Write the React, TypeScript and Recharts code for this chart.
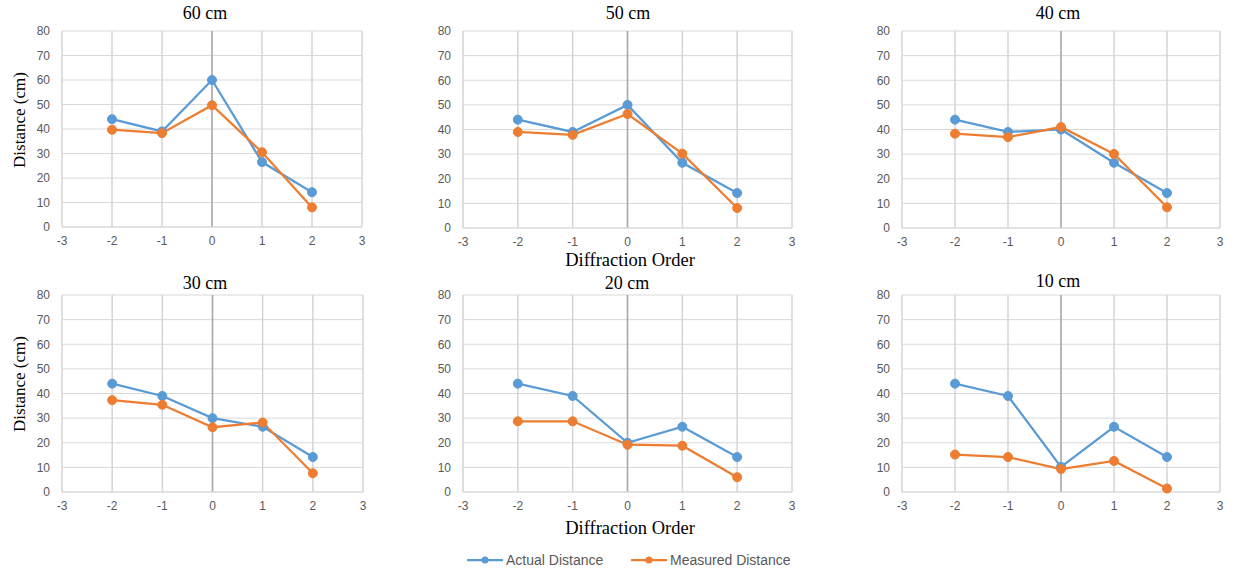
import { LineChart, Line, XAxis, YAxis, CartesianGrid, ReferenceLine } from 'recharts';

// diffraction orders on the x axis
const ORDERS = [-2, -1, 0, 1, 2];
const X_TICKS = [-3, -2, -1, 0, 1, 2, 3];
const Y_TICKS = [0, 10, 20, 30, 40, 50, 60, 70, 80];

// actual vs measured distance (cm)
const ACTUAL_60 = [44, 39, 60, 26.5, 14.2];
const MEASURED_60 = [39.7, 38.3, 49.7, 30.5, 8];
const ACTUAL_50 = [44, 39, 50, 26.5, 14.2];
const MEASURED_50 = [39, 37.8, 46.3, 30.2, 8.1];
const ACTUAL_40 = [44, 39, 40, 26.5, 14.2];
const MEASURED_40 = [38.3, 36.9, 41, 30.1, 8.4];
const ACTUAL_30 = [44, 39, 30, 26.5, 14.2];
const MEASURED_30 = [37.3, 35.4, 26.3, 28.2, 7.6];
const ACTUAL_20 = [44, 39, 20, 26.5, 14.2];
const MEASURED_20 = [28.7, 28.7, 19.2, 18.8, 6];
const ACTUAL_10 = [44, 39, 10.2, 26.5, 14.2];
const MEASURED_10 = [15.2, 14.2, 9.3, 12.6, 1.4];

const BLUE = '#5b9bd5';
const ORANGE = '#ed7d31';
const TICK = { fill: '#595959', fontSize: 12, fontFamily: 'Liberation Sans' };
const SERIF = 'Liberation Serif, serif';

const Y_AXIS_W = 40;
const X_AXIS_H = 30;
const PAD = 10;

interface PanelProps {
  title: string;
  titleX: number;
  titleY: number;
  actual: number[];
  measured: number[];
  left: number;
  top: number;
  w: number;
  h: number;
}

function Panel({ title, titleX, titleY, actual, measured, left, top, w, h }: PanelProps) {
  const data = ORDERS.map((x, i) => ({ x, actual: actual[i], measured: measured[i] }));
  return (
    <>
      <div style={{
        position: 'absolute', left: titleX, top: titleY, transform: 'translateX(-50%)',
        fontFamily: SERIF, fontSize: 18, color: '#000', lineHeight: '20px', whiteSpace: 'nowrap',
      }}>{title}</div>
      <div style={{ position: 'absolute', left: left - Y_AXIS_W, top: top - PAD }}>
        <LineChart
          width={w + Y_AXIS_W + PAD}
          height={h + PAD + X_AXIS_H}
          data={data}
          margin={{ top: PAD, right: PAD, left: 0, bottom: 0 }}
        >
          <CartesianGrid vertical={false} stroke="#d9d9d9" />
          <CartesianGrid horizontal={false} stroke="#d4d4d4" strokeWidth={1.5} />
          <XAxis
            dataKey="x" type="number" domain={[-3, 3]} ticks={X_TICKS}
            height={X_AXIS_H} tick={TICK} tickLine={false} tickSize={0} tickMargin={9}
            axisLine={{ stroke: '#d9d9d9' }}
          />
          <YAxis
            type="number" domain={[0, 80]} ticks={Y_TICKS} width={Y_AXIS_W}
            tick={TICK} tickLine={false} tickSize={0} tickMargin={12} axisLine={false}
          />
          <ReferenceLine x={0} stroke="#aaaaaa" strokeWidth={1.5} />
          <Line dataKey="actual" stroke={BLUE} strokeWidth={2.25} isAnimationActive={false}
            dot={{ r: 4.5, fill: BLUE, stroke: BLUE, strokeWidth: 1 }} activeDot={false} />
          <Line dataKey="measured" stroke={ORANGE} strokeWidth={2.25} isAnimationActive={false}
            dot={{ r: 4.5, fill: ORANGE, stroke: ORANGE, strokeWidth: 1 }} activeDot={false} />
        </LineChart>
      </div>
    </>
  );
}

function YLabel({ cy }: { cy: number }) {
  return (
    <div style={{
      position: 'absolute', left: 20, top: cy, transform: 'translate(-50%, -50%) rotate(-90deg)',
      fontFamily: SERIF, fontSize: 17, whiteSpace: 'nowrap', color: '#000',
    }}>Distance (cm)</div>
  );
}

function XLabel({ cy }: { cy: number }) {
  return (
    <div style={{
      position: 'absolute', left: 630, top: cy, transform: 'translate(-50%, -50%)',
      fontFamily: SERIF, fontSize: 18.5, whiteSpace: 'nowrap', color: '#000',
    }}>Diffraction Order</div>
  );
}

function LegendItem({ x, color, label }: { x: number; color: string; label: string }) {
  return (
    <>
      <svg style={{ position: 'absolute', left: x, top: 553 }} width={36} height={14}>
        <line x1={0} y1={7} x2={36} y2={7} stroke={color} strokeWidth={2.25} />
        <circle cx={18} cy={7} r={3.5} fill={color} />
      </svg>
      <div style={{
        position: 'absolute', left: x + 39, top: 550, fontFamily: 'Liberation Sans',
        fontSize: 14, color: '#595959', whiteSpace: 'nowrap', lineHeight: '20px',
      }}>{label}</div>
    </>
  );
}

export default function App() {
  return (
    <div style={{ position: 'absolute', left: 0, top: 0, width: 1233, height: 575, background: '#fff' }}>
      <Panel title="60 cm" titleX={205} titleY={3} actual={ACTUAL_60} measured={MEASURED_60} left={62} top={31} w={300} h={196} />
      <Panel title="50 cm" titleX={628} titleY={3} actual={ACTUAL_50} measured={MEASURED_50} left={463} top={31} w={329} h={197} />
      <Panel title="40 cm" titleX={1058} titleY={3} actual={ACTUAL_40} measured={MEASURED_40} left={902} top={31} w={318} h={197} />
      <Panel title="30 cm" titleX={205} titleY={273} actual={ACTUAL_30} measured={MEASURED_30} left={62} top={295} w={301} h={197} />
      <Panel title="20 cm" titleX={627} titleY={273} actual={ACTUAL_20} measured={MEASURED_20} left={463} top={295} w={329} h={197} />
      <Panel title="10 cm" titleX={1058} titleY={271} actual={ACTUAL_10} measured={MEASURED_10} left={902} top={295} w={318} h={197} />
      <YLabel cy={120} />
      <YLabel cy={384} />
      <XLabel cy={260} />
      <XLabel cy={528} />
      <LegendItem x={467} color={BLUE} label="Actual Distance" />
      <LegendItem x={631} color={ORANGE} label="Measured Distance" />
    </div>
  );
}
